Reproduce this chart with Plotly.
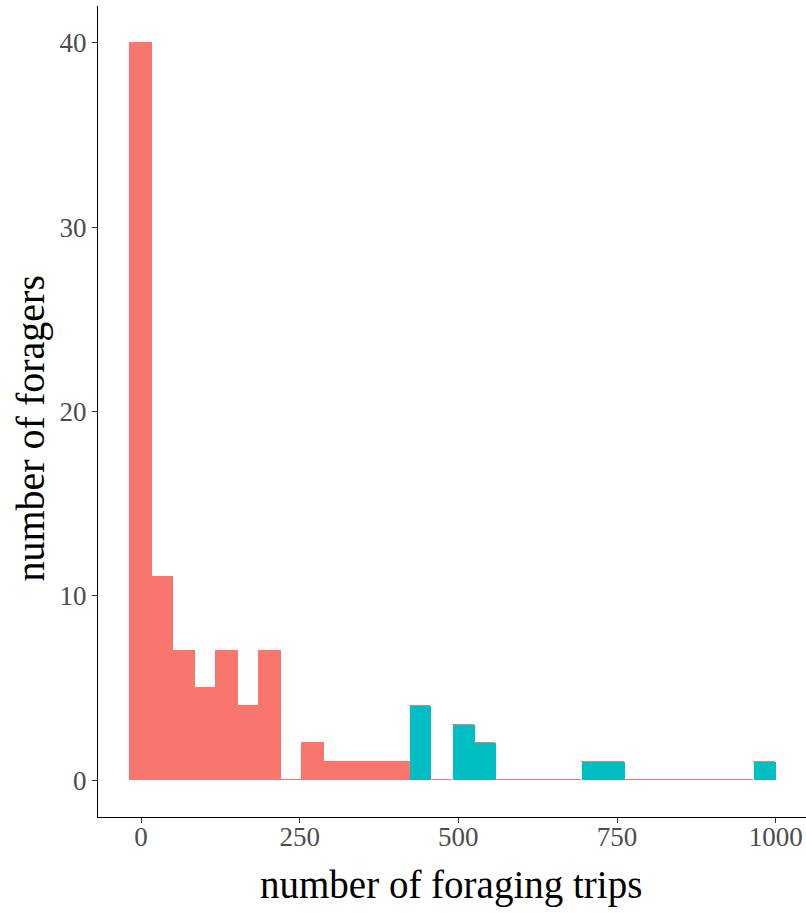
import plotly.graph_objects as go

# histogram of foraging trips (ggplot-style, 30 bins)
bin_width = 33.9
first_center = 0.0
red_counts = [40, 11, 7, 5, 7, 4, 7, 0, 2, 1, 1, 1, 1, 0, 0,
              0, 0, 0, 0, 0, 0, 0, 0, 0, 0, 0, 0, 0, 0, 0]
teal_counts = [0, 0, 0, 0, 0, 0, 0, 0, 0, 0, 0, 0, 0, 4, 0,
               3, 2, 0, 0, 0, 0, 1, 1, 0, 0, 0, 0, 0, 0, 1]
x_ticks = [0, 250, 500, 750, 1000]
y_ticks = [0, 10, 20, 30, 40]
x_title = "number of foraging trips"
y_title = "number of foragers"

centers = [first_center + i * bin_width for i in range(len(red_counts))]

RED = "#F8766D"
TEAL = "#00BFC4"
FONT = "Liberation Serif"

fig = go.Figure()
fig.add_trace(go.Bar(x=centers, y=teal_counts, width=bin_width,
                     marker=dict(color=TEAL, line=dict(width=0)),
                     showlegend=False))
fig.add_trace(go.Bar(x=centers, y=red_counts, width=bin_width,
                     marker=dict(color=RED, line=dict(width=1.5, color=RED)),
                     showlegend=False))

fig.update_layout(
    width=806, height=913,
    margin=dict(l=98, r=0, t=6, b=96),
    barmode="stack", bargap=0,
    plot_bgcolor="white", paper_bgcolor="white",
    font=dict(family=FONT),
    xaxis=dict(range=[-67.8, 1047.8], tickvals=x_ticks, ticktext=[str(v) for v in x_ticks],
               showgrid=False, zeroline=False, showline=True, linecolor="black", linewidth=1.3,
               ticks="outside", ticklen=5, tickwidth=1.1, tickcolor="#333333",
               ticklabelstandoff=-10,
               tickfont=dict(family=FONT, size=27, color="#4D4D4D")),
    yaxis=dict(range=[-2, 42], tickvals=y_ticks, ticktext=[str(v) for v in y_ticks],
               showgrid=False, zeroline=False, showline=True, linecolor="black", linewidth=1.3,
               ticks="outside", ticklen=5, tickwidth=1.1, tickcolor="#333333",
               tickfont=dict(family=FONT, size=27, color="#4D4D4D")),
    annotations=[
        dict(text=x_title, xref="paper", yref="paper", x=0.499, y=-0.0838,
             xanchor="center", yanchor="middle", showarrow=False,
             font=dict(family=FONT, size=39, color="black")),
        dict(text=y_title, xref="paper", yref="paper", x=-0.096, y=0.479,
             xanchor="center", yanchor="middle", showarrow=False, textangle=-90,
             font=dict(family=FONT, size=40, color="black")),
    ],
)

fig.write_html("out.html", config={"displayModeBar": False},
               post_script="document.body.style.margin='0';document.body.style.overflow='hidden';")
